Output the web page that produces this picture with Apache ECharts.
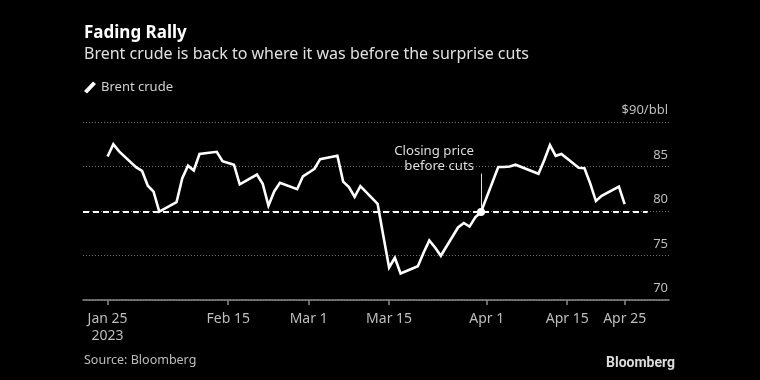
<!DOCTYPE html>
<html><head><meta charset="utf-8">
<script src="https://cdn.jsdelivr.net/npm/echarts@6/dist/echarts.min.js"></script>
<style>html,body{margin:0;padding:0;background:#000}#c{width:760px;height:380px}</style>
</head><body><div id="c"></div>
<script>
var dates = ['2023-01-25','2023-01-26','2023-01-27','2023-01-30','2023-01-31','2023-02-01','2023-02-02','2023-02-03','2023-02-06','2023-02-07','2023-02-08','2023-02-09','2023-02-10','2023-02-13','2023-02-14','2023-02-15','2023-02-16','2023-02-17','2023-02-20','2023-02-21','2023-02-22','2023-02-23','2023-02-24','2023-02-27','2023-02-28','2023-03-01','2023-03-02','2023-03-03','2023-03-06','2023-03-07','2023-03-08','2023-03-09','2023-03-10','2023-03-13','2023-03-14','2023-03-15','2023-03-16','2023-03-17','2023-03-20','2023-03-21','2023-03-22','2023-03-23','2023-03-24','2023-03-27','2023-03-28','2023-03-29','2023-03-30','2023-03-31','2023-04-03','2023-04-04','2023-04-05','2023-04-06','2023-04-10','2023-04-11','2023-04-12','2023-04-13','2023-04-14','2023-04-17','2023-04-18','2023-04-19','2023-04-20','2023-04-21','2023-04-24','2023-04-25'];
var brent = [86.12,87.5,86.7,84.9,84.5,82.84,82.17,79.94,80.99,83.69,85.09,84.55,86.4,86.65,85.6,85.4,85.2,83.0,84.1,83.05,80.6,82.2,83.16,82.45,83.9,84.3,84.75,85.83,86.2,83.3,82.7,81.6,82.8,80.8,77.2,73.65,74.75,72.97,73.8,75.3,76.7,75.9,74.97,78.15,78.65,78.25,79.3,79.89,84.95,84.95,85.0,85.2,84.18,85.7,87.4,86.2,86.4,84.85,84.8,83.1,81.12,81.7,82.75,80.77];
var tickDates = ['2023-01-25','2023-02-15','2023-03-01','2023-03-15','2023-04-01','2023-04-15','2023-04-25'];
var tickLabels = ['Jan 25\n2023','Feb 15','Mar 1','Mar 15','Apr 1','Apr 15','Apr 25'];
var yTicks = [70, 75, 80, 85, 90];
var yLabels = ['70','75','80','85','$90/bbl'];
var cutDate = '2023-03-31';
var cutPrice = 79.89;
var refLineEnd = '2023-04-29';
var annotationTop = 84.2;
var annotationText = 'Closing price\nbefore cuts';

// day number since 2023-01-01 (UTC)
function dn(d){ var p=d.split('-'); return (Date.UTC(+p[0], +p[1]-1, +p[2]) - Date.UTC(2023,0,1))/86400000; }
var xMin = dn('2023-01-25') - 4.28;
var xMax = xMin + 102;
var tickDn = tickDates.map(dn);
var FONT = '"Noto Sans", sans-serif';

var chart = echarts.init(document.getElementById('c'), null, {renderer:'canvas'});
chart.setOption({
  backgroundColor: '#000',
  animation: false,
  textStyle: {fontFamily: FONT},
  title: [
    {text:'Fading Rally', left:84, top:24, padding:0,
     textStyle:{color:'#ffffff', fontSize:17, fontWeight:'bold', fontFamily:FONT, lineHeight:18}},
    {text:'Brent crude is back to where it was before the surprise cuts', left:84, top:45, padding:0,
     textStyle:{color:'#e0e0e0', fontSize:16, fontWeight:'normal', fontFamily:FONT, lineHeight:18}},
    {text:'Source: Bloomberg', left:84, top:352, padding:0,
     textStyle:{color:'#bdbdbd', fontSize:12.5, fontWeight:'normal', fontFamily:FONT, lineHeight:16}},
    {text:'Bloomberg', right:85, top:355, padding:0,
     textStyle:{color:'#dcdcdc', fontSize:14, fontWeight:'bold', fontFamily:'"Roboto", sans-serif', lineHeight:16}}
  ],
  legend: {
    left: 84, top: 81, padding: 0, itemWidth: 12, itemHeight: 12, itemGap: 10,
    icon: 'path://M9,0 L12,2.5 L3,12 L0,9.5 Z',
    textStyle: {color:'#d0d0d0', fontSize:13, fontFamily:FONT},
    data: ['Brent crude']
  },
  grid: {left:83, right:91, top:122, bottom:80, containLabel:false},
  xAxis: {
    type:'value', min:xMin, max:xMax,
    axisLine:{show:true, onZero:false, lineStyle:{color:'#8a8a8a', width:1.5}},
    axisTick:{show:true, customValues: tickDn, length:5, lineStyle:{color:'#8a8a8a', width:1.5}},
    axisLabel:{show:true, customValues: tickDn, color:'#bdbdbd', fontSize:14, fontFamily:FONT, margin:11, lineHeight:17,
      hideOverlap:false,
      formatter:function(v){ for (var i=0;i<tickDn.length;i++){ if (Math.abs(tickDn[i]-v)<1e-6) return tickLabels[i]; } return ''; }},
    splitLine:{show:false}
  },
  yAxis: {
    type:'value', position:'right', min:70, max:90, interval:5,
    axisLine:{show:false}, axisTick:{show:false},
    axisLabel:{inside:true, margin:1, color:'#bdbdbd', fontSize:13, fontFamily:FONT,
      verticalAlign:'bottom', padding:[0,0,5,0],
      formatter:function(v){ var i = yTicks.indexOf(v); return i>=0 ? yLabels[i] : ''; }},
    splitLine:{show:true, lineStyle:{color:'#707070', width:1, type:[1,2]}}
  },
  series: [{
    name:'Brent crude', type:'line',
    data: dates.map(function(d,i){ return [dn(d), brent[i]]; }),
    showSymbol:false, symbol:'none',
    lineStyle:{color:'#ffffff', width:2.6, join:'miter'},
    itemStyle:{color:'#ffffff'},
    z: 5,
    markLine: {
      silent:true, symbol:['none','none'], animation:false,
      label:{show:false},
      data: [
        [{coord:[xMin, cutPrice], lineStyle:{color:'#ffffff', width:2, type:[6,4]}},
         {coord:[dn(refLineEnd), cutPrice]}],
        [{coord:[dn(cutDate), cutPrice], lineStyle:{color:'#dddddd', width:1, type:'solid'}},
         {coord:[dn(cutDate), annotationTop]}]
      ]
    },
    markPoint: {
      silent:true, animation:false,
      data: [
        {coord:[dn(cutDate), cutPrice], symbol:'circle', symbolSize:8, itemStyle:{color:'#ffffff'}, label:{show:false}},
        {coord:[dn(cutDate), annotationTop], symbol:'circle', symbolSize:0,
         label:{show:true, position:[-7, 0], align:'right', verticalAlign:'bottom', formatter:annotationText,
           color:'#dcdcdc', fontSize:13.2, fontFamily:FONT, lineHeight:15}}
      ]
    }
  }]
});
</script></body></html>
